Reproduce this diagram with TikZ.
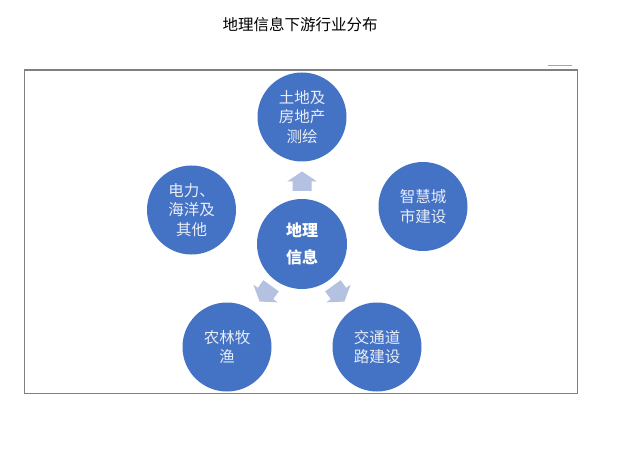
\documentclass[tikz,border=0pt]{standalone}
\usepackage{fontspec}
\setmainfont{Noto Sans CJK SC}
\definecolor{circblue}{RGB}{68,114,196}
\definecolor{arrowfill}{RGB}{180,193,225}
\definecolor{framegray}{RGB}{128,128,128}
\definecolor{lighttext}{RGB}{232,237,247}
\begin{document}
\begin{tikzpicture}[x=1pt,y=-1pt,
  outer/.style={circle,fill=circblue,minimum size=89pt,inner sep=0pt,text=lighttext,
    align=center,font=\fontsize{15.5pt}{19.5pt}\selectfont},
  hub/.style={circle,fill=circblue,minimum size=90pt,inner sep=0pt,text=white,
    align=center,font=\fontsize{16pt}{27pt}\selectfont\bfseries},
  blockarrow/.pic={\fill[arrowfill] (-9.5pt,-9.5pt) -- (0pt,-9.5pt) -- (0pt,-15pt) -- (10pt,0pt)
     -- (0pt,15pt) -- (0pt,9.5pt) -- (-9.5pt,9.5pt) -- cycle;}]
\useasboundingbox (0,0) rectangle (626,465);
\fill[white] (0,0) rectangle (626,465);
\node[font=\fontsize{15.5pt}{18pt}\selectfont] (title) at (300,25) {地理信息下游行业分布};
\draw[framegray,line width=1.1pt] (24.5,70) rectangle (577.5,393.5);
\draw[framegray!70,line width=1pt] (548,66) -- (572,66);
\coordinate (mark) at (560,66);
\node[hub] (hub) at (302,244) {地理\\信息};
\node[outer] (top) at (302,117) {土地及\\房地产\\测绘};
\node[outer] (left) at (191.5,210) {电力、\\海洋及\\其他};
\node[outer] (right) at (423,206.5) {智慧城\\市建设};
\node[outer] (bl) at (227,347) {农林牧\\渔};
\node[outer] (br) at (377,347) {交通道\\路建设};
\pic[rotate=90] at (302,181.5) {blockarrow};
\pic[rotate=234] at (265.5,293.5) {blockarrow};
\pic[rotate=306] at (338.5,293.5) {blockarrow};
\end{tikzpicture}
\end{document}
